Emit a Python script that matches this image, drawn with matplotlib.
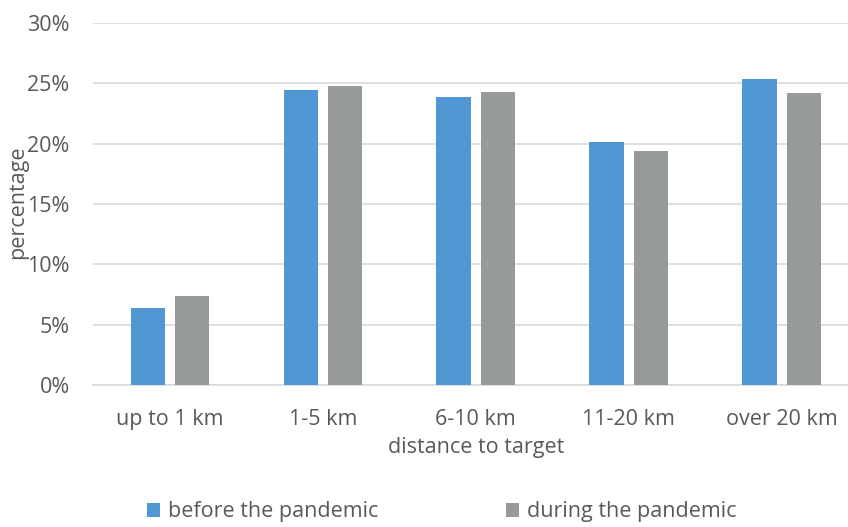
import matplotlib.pyplot as plt
import numpy as np
from matplotlib.ticker import PercentFormatter

plt.rcParams['font.family'] = ['Open Sans', 'DejaVu Sans']

# Share of trips by distance to target
categories = ["up to 1 km", "1-5 km", "6-10 km", "11-20 km", "over 20 km"]
before = [6.35, 24.45, 23.85, 20.1, 25.35]
during = [7.4, 24.75, 24.3, 19.4, 24.15]
series_names = ["before the pandemic", "during the pandemic"]

blue = '#5097D3'
gray = '#979A9A'
text_color = '#595959'
fs = 15.5

fig = plt.figure(figsize=(8.48, 5.27), dpi=100)
ax = fig.add_axes([0.110, 0.269, 0.902, 0.688])

x = np.arange(len(categories))
w = 0.225
ax.bar(x - 0.144, before, w, color=blue, label=series_names[0], zorder=3)
ax.bar(x + 0.144, during, w, color=gray, label=series_names[1], zorder=3)

ax.set_xlim(-0.5, len(categories) - 0.5)
ax.set_ylim(0, 30)
ax.set_yticks(np.arange(0, 31, 5))
ax.yaxis.set_major_formatter(PercentFormatter(decimals=0))
ax.grid(axis='y', color='#D9D9D9', linewidth=1.2, zorder=0)
ax.set_axisbelow(True)

for side in ['top', 'right', 'left']:
    ax.spines[side].set_visible(False)
ax.spines['bottom'].set_color('#D9D9D9')
ax.spines['bottom'].set_linewidth(1.2)

ax.set_xticks(x)
ax.set_xticklabels(categories)
ax.tick_params(axis='both', length=0, labelsize=fs, labelcolor=text_color)
ax.tick_params(axis='x', pad=17)
ax.tick_params(axis='y', pad=17)

ax.set_xlabel("distance to target", fontsize=fs, color=text_color, labelpad=5)
ax.set_ylabel("percentage", fontsize=fs, color=text_color)
ax.yaxis.set_label_coords(-0.085, 0.505)

fig.legend(loc='lower center', bbox_to_anchor=(0.521, -0.028), ncol=2, frameon=False,
           fontsize=fs, labelcolor=text_color, handlelength=0.6, handleheight=0.6,
           handletextpad=0.4, columnspacing=5.9)

fig.savefig('out.png', dpi=100)
